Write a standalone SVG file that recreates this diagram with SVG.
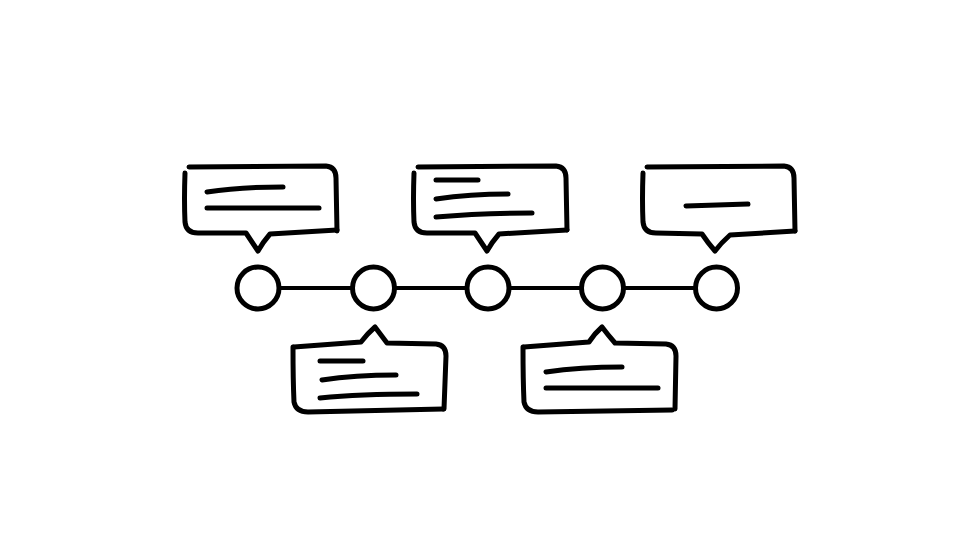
<svg xmlns="http://www.w3.org/2000/svg" width="960" height="540" viewBox="0 0 960 540">
<style>
.s{fill:none;stroke:#000;stroke-width:5;stroke-linecap:round;stroke-linejoin:round}
.c{fill:#fff;stroke:#000;stroke-width:5}
.t{fill:none;stroke:#000;stroke-width:5;stroke-linecap:round}
.l{stroke:#000;stroke-width:4}
</style>
<rect width="960" height="540" fill="#fff"/>
<g id="connectors">
<line class="l" x1="279" y1="288" x2="352" y2="288"/>
<line class="l" x1="395" y1="288" x2="466" y2="288"/>
<line class="l" x1="510" y1="288" x2="580" y2="288"/>
<line class="l" x1="624" y1="288" x2="695" y2="288"/>
</g>
<g id="node1"><circle class="c" cx="258" cy="288" r="21"/></g>
<g id="node2"><circle class="c" cx="373.5" cy="288" r="21"/></g>
<g id="node3"><circle class="c" cx="488" cy="288" r="21"/></g>
<g id="node4"><circle class="c" cx="602.5" cy="288" r="21"/></g>
<g id="node5"><circle class="c" cx="716.5" cy="288" r="21"/></g>
<g id="bubble1">
<path class="s" d="M189 167 L326 166 Q336 167 336 178 L337 231"/>
<path class="s" d="M185 173 Q184 200 185 222 Q186 233 198 233 L246 233 Q252 242 258 251 Q263 242 270 234 L337 230"/>
<path class="t" d="M207 192 Q240 187 283 187"/>
<path class="t" d="M207 208 L319 208"/>
</g>
<g id="bubble2">
<path class="s" d="M418 167 L556 166 Q566 167 566 178 L567 230"/>
<path class="s" d="M414 173 Q413 200 414 222 Q415 233 427 233 L475 233 Q481 242 487 251 Q492 242 499 234 L567 230"/>
<path class="t" d="M436 180 L478 180"/>
<path class="t" d="M436 199 Q470 194 508 194"/>
<path class="t" d="M436 217 Q480 213 532 213"/>
</g>
<g id="bubble3">
<path class="s" d="M647 167 L784 166 Q794 167 794 178 L795 231"/>
<path class="s" d="M643 173 Q642 200 643 222 Q644 233 656 233 L702 234 Q708 243 715 251 Q721 243 730 235 L795 231"/>
<path class="t" d="M686 206 L748 204"/>
</g>
<g id="bubble4">
<path class="s" d="M294 347 L361 342 Q368 333 375 327 Q381 335 387 343 L436 344 Q446 345 446 356 L444 409"/>
<path class="s" d="M293 347 Q293 380 294 402 Q296 412 308 412 L443 409"/>
<path class="t" d="M320 361 L363 361"/>
<path class="t" d="M322 380 Q355 375 396 375"/>
<path class="t" d="M320 398 Q360 394 417 394"/>
</g>
<g id="bubble5">
<path class="s" d="M524 347 L589 342 Q595 333 602 327 Q608 335 615 343 L666 344 Q676 345 676 356 L675 409"/>
<path class="s" d="M523 347 Q523 380 524 402 Q526 412 538 412 L672 410"/>
<path class="t" d="M546 372 Q580 367 622 367"/>
<path class="t" d="M546 388 L658 388"/>
</g>
</svg>
